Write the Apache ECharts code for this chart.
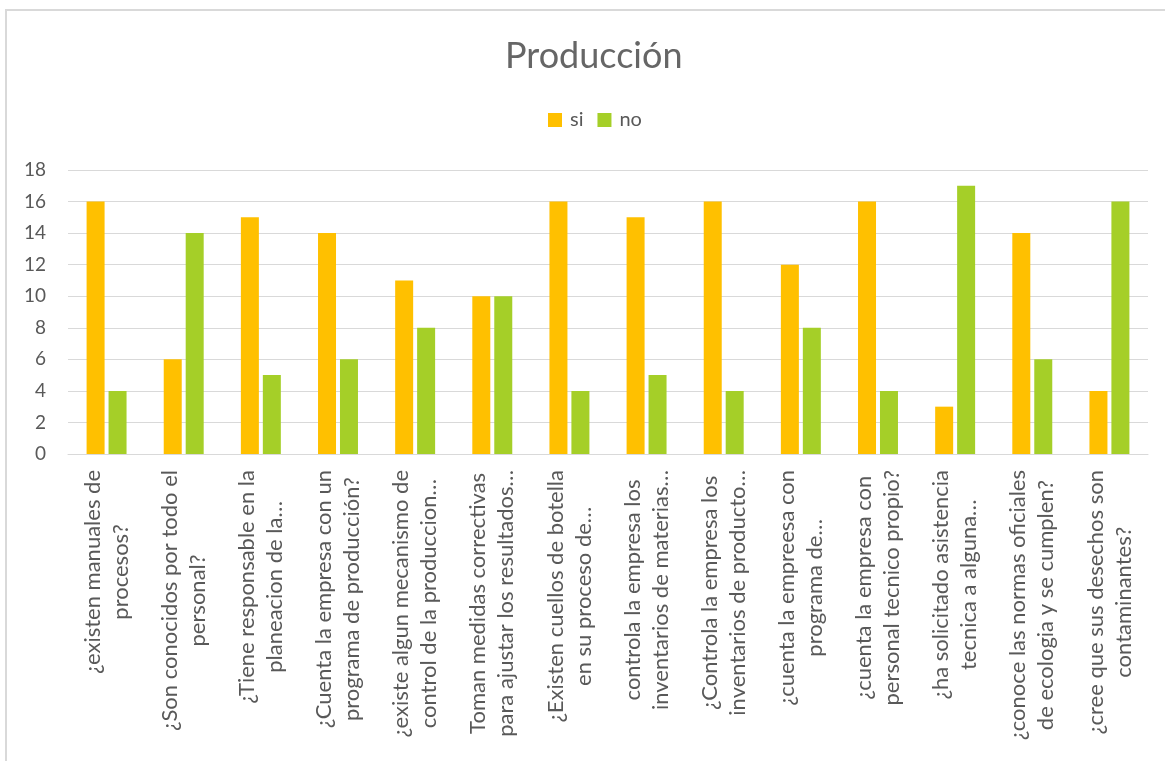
<!DOCTYPE html>
<html><head><meta charset="utf-8">
<script src="https://cdn.jsdelivr.net/npm/echarts@6/dist/echarts.min.js"></script>
<style>html,body{margin:0;padding:0;background:#fff}#c{width:1165px;height:761px}</style>
</head><body><div id="c"></div>
<script>
const categories = [
  "¿existen manuales de\nprocesos?",
  "¿Son conocidos por todo el\npersonal?",
  "¿Tiene responsable en la\nplaneacion de la…",
  "¿Cuenta la empresa con un\nprograma de producción?",
  "¿existe algun mecanismo de\ncontrol de la produccion…",
  "Toman medidas correctivas\npara ajustar los resultados…",
  "¿Existen cuellos de botella\nen su proceso de…",
  "controla la empresa los\ninventarios de materias…",
  "¿Controla la empresa los\ninventarios de producto…",
  "¿cuenta la empreesa con\nprograma de…",
  "¿cuenta la empresa con\npersonal tecnico propio?",
  "¿ha solicitado asistencia\ntecnica a alguna…",
  "¿conoce las normas oficiales\nde ecologia y se cumplen?",
  "¿cree que sus desechos son\ncontaminantes?"
];
const siValues = [16, 6, 15, 14, 11, 10, 16, 15, 16, 12, 16, 3, 14, 4];
const noValues = [4, 14, 5, 6, 8, 10, 4, 5, 4, 8, 4, 17, 6, 16];
const seriesNames = ["si", "no"];
const yTicks = {min: 0, max: 18, interval: 2};

const FONT = "Lato";
const TXT = "#595959";
const chart = echarts.init(document.getElementById('c'));
chart.setOption({
  animation: false,
  backgroundColor: '#fff',
  graphic: [{
    type: 'rect', shape: {x: 6, y: 10, width: 1170, height: 770},
    style: {fill: 'none', stroke: '#D9D9D9', lineWidth: 2}, silent: true
  }],
  title: {
    text: 'Producción', left: 500, top: 33,
    textStyle: {fontFamily: FONT, fontSize: 36, fontWeight: 'normal', color: '#666666'}
  },
  legend: {
    top: 105, left: 543, itemWidth: 14, itemHeight: 14, itemGap: 14,
    icon: 'rect',
    textStyle: {fontFamily: FONT, fontSize: 20, color: TXT, padding: [0, 0, 0, 3]}
  },
  grid: {left: 68, right: 17, top: 170, bottom: 307, containLabel: false},
  xAxis: {
    type: 'category', data: categories,
    axisTick: {show: false},
    axisLine: {lineStyle: {color: '#D9D9D9', width: 1}},
    axisLabel: {
      interval: 0, rotate: 90, margin: 16, color: TXT,
      fontFamily: FONT, fontSize: 22, lineHeight: 28,
      formatter: v => v.split('\n').map(l => '{c|' + l + '}').join('\n'),
      rich: {c: {align: 'center', fontFamily: FONT, fontSize: 22, lineHeight: 28, color: TXT}}
    }
  },
  yAxis: {
    type: 'value', min: yTicks.min, max: yTicks.max, interval: yTicks.interval,
    axisLine: {show: false}, axisTick: {show: false},
    splitLine: {lineStyle: {color: '#D9D9D9', width: 1}},
    axisLabel: {color: TXT, fontFamily: FONT, fontSize: 19, margin: 22}
  },
  series: [
    {name: seriesNames[0], type: 'bar', data: siValues, barWidth: 18, barGap: '22%', itemStyle: {color: '#FFC000'}},
    {name: seriesNames[1], type: 'bar', data: noValues, barWidth: 18, barGap: '22%', itemStyle: {color: '#A5CF28'}}
  ]
});
</script></body></html>
